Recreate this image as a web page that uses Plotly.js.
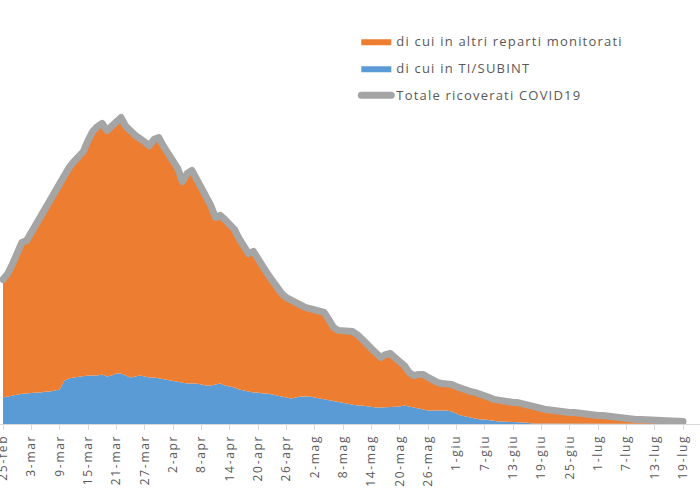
<!DOCTYPE html>
<html>
<head>
<meta charset="utf-8">
<script src="https://cdn.plot.ly/plotly-3.0.1.min.js"></script>
<style>
  html, body { margin: 0; padding: 0; background: #ffffff; }
  #chart { width: 700px; height: 493px; }
  /* rounded joins for the thick total line */
  .js-line { stroke-linejoin: round; stroke-linecap: round; }
  /* loose letter spacing for the axis and legend texts */
  .xtick text { letter-spacing: 1.7px; }
  .legendtext { letter-spacing: 1.2px; }
</style>
</head>
<body>
<div id="chart"></div>
<script>
// Tick labels shown on the date axis (one every six days)
const tickLabels = ['25-feb','3-mar','9-mar','15-mar','21-mar','27-mar','2-apr','8-apr','14-apr',
  '20-apr','26-apr','2-mag','8-mag','14-mag','20-mag','26-mag','1-giu','7-giu','13-giu','19-giu',
  '25-giu','1-lug','7-lug','13-lug','19-lug'];

// Totale ricoverati COVID19, daily from 25-feb
const totale = [
  5783, 6015, 6391, 6857, 7262, 7335, 7668, 8014, 8306, 8657,
  9063, 9371, 9704, 9986, 10255, 10497, 10712, 10894, 11338, 11706,
  11897, 12025, 11736, 11942, 12103, 12258, 11904, 11695, 11547, 11418,
  11296, 11137, 11384, 11455, 11102, 10817, 10538, 10226, 9697, 10024,
  10143, 9815, 9504, 9176, 8743, 8256, 8347, 8176, 8019, 7784,
  7418, 7143, 6815, 6906, 6577, 6302, 6018, 5743, 5416, 5224,
  5057, 4943, 4862, 4776, 4663, 4618, 4542, 4497, 4463, 4176,
  3862, 3745, 3736, 3742, 3698, 3577, 3424, 3216, 3023, 2818,
  2663, 2776, 2823, 2657, 2503, 2337, 2064, 1938, 1984, 1976,
  1862, 1737, 1664, 1618, 1624, 1577, 1503, 1416, 1383, 1297,
  1263, 1216, 1143, 1057, 984, 937, 903, 896, 862, 857,
  823, 776, 703, 658, 622, 577, 543, 502, 497, 494,
  463, 456, 423, 414, 383, 376, 343, 336, 304, 297,
  263, 254, 223, 187, 182, 176, 173, 147, 143, 138,
  141, 136, 107, 103, 98
];

// di cui in TI/SUBINT, daily from 25-feb
const tiSubint = [
  1058, 1097, 1143, 1176, 1214, 1223, 1256, 1262, 1259, 1297,
  1304, 1338, 1382, 1736, 1817, 1862, 1896, 1938, 1944, 1937,
  1943, 1981, 1902, 1937, 2018, 2023, 1941, 1858, 1903, 1936,
  1898, 1862, 1857, 1823, 1776, 1742, 1697, 1663, 1656, 1624,
  1617, 1622, 1583, 1538, 1542, 1577, 1618, 1543, 1497, 1462,
  1383, 1337, 1302, 1258, 1263, 1217, 1222, 1176, 1143, 1098,
  1063, 1018, 1057, 1103, 1096, 1102, 1057, 1023, 978, 943,
  897, 863, 856, 823, 778, 743, 736, 702, 697, 663,
  658, 664, 657, 662, 698, 742, 703, 657, 623, 578,
  543, 537, 541, 536, 544, 497, 423, 337, 303, 262,
  218, 183, 176, 143, 137, 102, 97, 93, 63, 58,
  57, 52, 24, 22, 21, 19, 18, 17, 16, 15,
  15, 14, 13, 12, 12, 11, 10, 10, 9, 9,
  8, 8, 7, 7, 6, 6, 6, 5, 5, 5,
  4, 4, 4, 3, 3
];

// Daily category labels ("25-feb", "26-feb", ...)
const mesi = ['feb', 'mar', 'apr', 'mag', 'giu', 'lug'];
const giorniMese = [28, 31, 30, 31, 30, 31];
const giorni = [];
{
  let m = 0, d = 25;
  for (let k = 0; k < totale.length; k++) {
    giorni.push(d + '-' + mesi[m]);
    d++;
    if (d > giorniMese[m]) { d = 1; m++; }
  }
}

const traces = [
  {
    x: giorni, y: tiSubint, type: 'scatter', mode: 'lines',
    name: 'di cui in TI/SUBINT', legendrank: 2, legendgroup: 'ti',
    fill: 'tozeroy', fillcolor: '#5b9bd5',
    line: { width: 0, color: '#5b9bd5' }
  },
  {
    x: giorni, y: totale, type: 'scatter', mode: 'lines',
    name: 'di cui in altri reparti monitorati', legendrank: 1, legendgroup: 'altri',
    fill: 'tonexty', fillcolor: '#ed7d31',
    line: { width: 0, color: '#ed7d31' }
  },
  {
    x: giorni, y: totale, type: 'scatter', mode: 'lines',
    name: 'Totale ricoverati COVID19', legendrank: 3, legendgroup: 'tot',
    line: { width: 7, color: '#a5a5a5' }
  }
];

const layout = {
  width: 700, height: 493,
  margin: { l: 0, r: 0, t: 24, b: 69 },
  paper_bgcolor: '#ffffff', plot_bgcolor: '#ffffff',
  showlegend: true,
  legend: {
    x: 0.509, xanchor: 'left', y: 0.994, yanchor: 'top',
    bgcolor: 'rgba(0,0,0,0)', tracegroupgap: 7,
    font: { family: 'Open Sans, sans-serif', size: 13, color: '#595959' }
  },
  xaxis: {
    type: 'category', range: [-0.635, 147.6],
    tickmode: 'array', tickvals: tickLabels, ticktext: tickLabels,
    tickangle: -90,
    tickfont: { family: 'Open Sans, sans-serif', size: 12, color: '#595959' },
    showline: true, linecolor: '#d9d9d9', linewidth: 1,
    ticks: 'outside', ticklen: 5, tickcolor: '#d9d9d9',
    showgrid: false, zeroline: false
  },
  yaxis: { range: [0, 16000], visible: false, showgrid: false, zeroline: false }
};

Plotly.newPlot('chart', traces, layout, { staticPlot: true, displayModeBar: false });
</script>
</body>
</html>
